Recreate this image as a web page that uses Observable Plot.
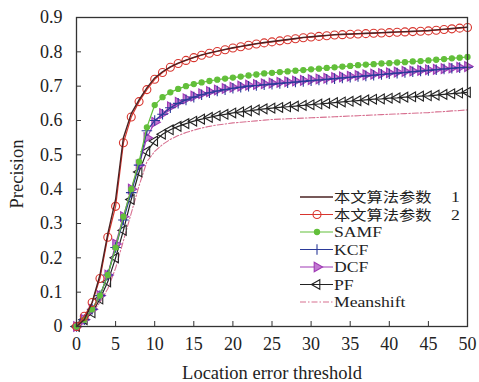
<!DOCTYPE html>
<html><head><meta charset="utf-8">
<script src="https://cdn.jsdelivr.net/npm/d3@7"></script>
<script src="https://cdn.jsdelivr.net/npm/@observablehq/plot@0.6"></script>
<style>body{margin:0;background:#fff}</style>
</head><body><div id="chart"></div>
<script>
const thresholds = [0,1,2,3,4,5,6,7,8,9,10,11,12,13,14,15,16,17,18,19,20,21,22,23,24,25,26,27,28,29,30,31,32,33,34,35,36,37,38,39,40,41,42,43,44,45,46,47,48,49,50];
const xTicks = [0,5,10,15,20,25,30,35,40,45,50];
const yTicks = [0,0.1,0.2,0.3,0.4,0.5,0.6,0.7,0.8,0.9];
const seriesNames = ["本文算法参数 1","本文算法参数 2","SAMF","KCF","DCF","PF","Meanshift"];

const param1 = [0,0.02,0.07,0.15,0.27,0.37,0.55,0.62,0.66,0.695,0.724,0.742,0.756,0.767,0.776,0.784,0.791,0.797,0.802,0.807,0.812,0.816,0.82,0.824,0.827,0.83,0.833,0.836,0.839,0.842,0.844,0.846,0.848,0.85,0.851,0.852,0.853,0.854,0.855,0.856,0.857,0.858,0.859,0.86,0.861,0.862,0.864,0.866,0.868,0.87,0.872];
const param2 = [0,0.03,0.07,0.14,0.26,0.35,0.535,0.61,0.655,0.69,0.72,0.74,0.755,0.766,0.775,0.783,0.79,0.796,0.801,0.806,0.811,0.815,0.819,0.823,0.826,0.829,0.832,0.835,0.838,0.841,0.843,0.845,0.847,0.849,0.85,0.851,0.852,0.853,0.854,0.855,0.856,0.857,0.858,0.859,0.86,0.861,0.863,0.865,0.867,0.869,0.871];
const samf = [0,0.02,0.05,0.09,0.15,0.23,0.32,0.4,0.48,0.58,0.645,0.668,0.682,0.692,0.7,0.706,0.711,0.715,0.719,0.722,0.725,0.728,0.731,0.734,0.737,0.739,0.741,0.743,0.745,0.747,0.749,0.751,0.753,0.755,0.757,0.759,0.761,0.763,0.764,0.766,0.767,0.769,0.77,0.772,0.773,0.775,0.777,0.779,0.781,0.783,0.785];
const kcf = [0,0.02,0.05,0.09,0.15,0.23,0.31,0.39,0.47,0.57,0.6,0.618,0.637,0.65,0.66,0.668,0.675,0.681,0.686,0.69,0.694,0.697,0.7,0.702,0.704,0.706,0.708,0.71,0.712,0.714,0.716,0.718,0.72,0.722,0.724,0.726,0.728,0.73,0.732,0.734,0.736,0.738,0.74,0.742,0.744,0.746,0.748,0.75,0.752,0.754,0.755];
const dcf = [0,0.02,0.05,0.09,0.15,0.24,0.32,0.4,0.47,0.55,0.595,0.62,0.64,0.653,0.663,0.671,0.678,0.684,0.689,0.693,0.697,0.7,0.703,0.705,0.707,0.709,0.711,0.713,0.715,0.717,0.719,0.721,0.723,0.725,0.727,0.729,0.731,0.733,0.735,0.737,0.739,0.741,0.743,0.744,0.746,0.748,0.749,0.751,0.753,0.755,0.757];
const pf = [0,0.02,0.04,0.08,0.13,0.2,0.28,0.37,0.45,0.51,0.54,0.56,0.573,0.583,0.591,0.598,0.604,0.609,0.614,0.618,0.622,0.625,0.628,0.631,0.634,0.636,0.638,0.64,0.642,0.644,0.646,0.648,0.65,0.652,0.654,0.656,0.658,0.66,0.662,0.663,0.665,0.666,0.668,0.669,0.671,0.672,0.674,0.676,0.678,0.68,0.682];
const meanshift = [0,0.02,0.04,0.07,0.11,0.17,0.25,0.33,0.41,0.48,0.51,0.53,0.545,0.556,0.565,0.572,0.578,0.583,0.587,0.59,0.593,0.595,0.597,0.599,0.601,0.603,0.604,0.605,0.606,0.607,0.608,0.609,0.61,0.611,0.612,0.613,0.614,0.615,0.616,0.617,0.618,0.619,0.62,0.621,0.622,0.623,0.625,0.626,0.628,0.629,0.631];

const styles = [
  {name: seriesNames[0], values: param1, stroke: "#4a2222", width: 1.4, symbol: null},
  {name: seriesNames[1], values: param2, stroke: "#d8352e", width: 1.2, symbol: "circle", r: 4, fill: "none"},
  {name: seriesNames[2], values: samf, stroke: "#62bf3a", width: 1.2, symbol: "circle", r: 2.6, fill: "#62bf3a"},
  {name: seriesNames[3], values: kcf, stroke: "#2b3a99", width: 1.2, symbol: "plus", r: 3.5, fill: "none"},
  {name: seriesNames[4], values: dcf, stroke: "#a03bb5", width: 1.2, symbol: "triangle", r: 3.6, fill: "#c27ad2", rotate: 90},
  {name: seriesNames[5], values: pf, stroke: "#222222", width: 1.2, symbol: "triangle", r: 3.6, fill: "none", rotate: -90},
  {name: seriesNames[6], values: meanshift, stroke: "#d77090", width: 1.1, symbol: null, dash: "6,2,1.5,2"}
];

const rowsOf = s => s.values.map((v, i) => ({x: thresholds[i], y: v}));
const drawOrder = [6,5,4,3,2,1,0];
const marks = [];
for (const k of drawOrder) {
  const s = styles[k];
  const rows = rowsOf(s);
  marks.push(Plot.line(rows, {x: "x", y: "y", stroke: s.stroke, strokeWidth: s.width, strokeDasharray: s.dash}));
  if (s.symbol) marks.push(Plot.dot(rows, {x: "x", y: "y", symbol: s.symbol, r: s.r, stroke: s.stroke, fill: s.fill, strokeWidth: 1.1, rotate: s.rotate || 0}));
}

const W = 479, H = 382, ML = 76, MR = 12, MT = 17, MB = 56;
const innerW = W - ML - MR, innerH = H - MT - MB;
const font = "'Liberation Serif', 'Noto Sans CJK SC', serif";
const chart = Plot.plot({
  width: W, height: H,
  marginLeft: ML, marginRight: MR, marginTop: MT, marginBottom: MB,
  style: {fontFamily: font, fontSize: "18px", color: "#222", background: "#fff"},
  x: {domain: [0, 50]},
  y: {domain: [0, 0.9]},
  marks: [
    ...marks,
    Plot.tickX(xTicks, {x: d => d, stroke: "#333", insetTop: innerH - 5}),
    Plot.tickY(yTicks, {y: d => d, stroke: "#333", insetRight: innerW - 5}),
    Plot.axisX({ticks: xTicks, tickSize: 0, tickPadding: 11, label: null, fill: "#222"}),
    Plot.axisY({ticks: yTicks, tickSize: 0, tickPadding: 14, label: null, tickFormat: d => d === 0 ? "0" : d.toFixed(1), fill: "#222"}),
    Plot.frame({stroke: "#333", strokeWidth: 1.3})
  ]
});
document.getElementById("chart").appendChild(chart);

const svg = d3.select(chart);
svg.append("text").attr("x", 272).attr("y", 379).attr("text-anchor", "middle")
  .style("font-family", font).style("font-size", "18.5px").attr("fill", "#222").text("Location error threshold");
svg.append("text").attr("transform", "translate(23,174) rotate(-90)").attr("text-anchor", "middle")
  .style("font-family", font).style("font-size", "18.5px").attr("fill", "#222").text("Precision");

// legend
const symType = {circle: d3.symbolCircle, plus: d3.symbolPlus, triangle: d3.symbolTriangle};
const lg = svg.append("g");
const sx = 1.16;
styles.forEach((s, i) => {
  const cy = 197 + i * 17.5;
  lg.append("line").attr("x1", 300).attr("x2", 333).attr("y1", cy).attr("y2", cy)
    .attr("stroke", s.stroke).attr("stroke-width", s.width).attr("stroke-dasharray", s.dash || null);
  if (s.symbol) lg.append("path").attr("d", d3.symbol(symType[s.symbol], Math.PI * s.r * s.r)())
    .attr("transform", `translate(317,${cy}) rotate(${s.rotate || 0})`)
    .attr("stroke", s.stroke).attr("fill", s.fill).attr("stroke-width", 1.1);
  const t = lg.append("text").attr("transform", `translate(334,${cy}) scale(${sx},1)`)
    .attr("x", 0).attr("y", 0).attr("dy", "0.35em").attr("text-anchor", "start")
    .style("font-family", font).style("font-size", "15.2px").attr("fill", "#222");
  const m = s.name.match(/^(\S+) (\d)$/);
  if (m) {
    t.append("tspan").style("font-size", "14px").text(m[1]);
    t.append("tspan").attr("x", (451 - 334) / sx).text(m[2]);
  } else {
    t.text(s.name);
  }
});
</script>
</body></html>
